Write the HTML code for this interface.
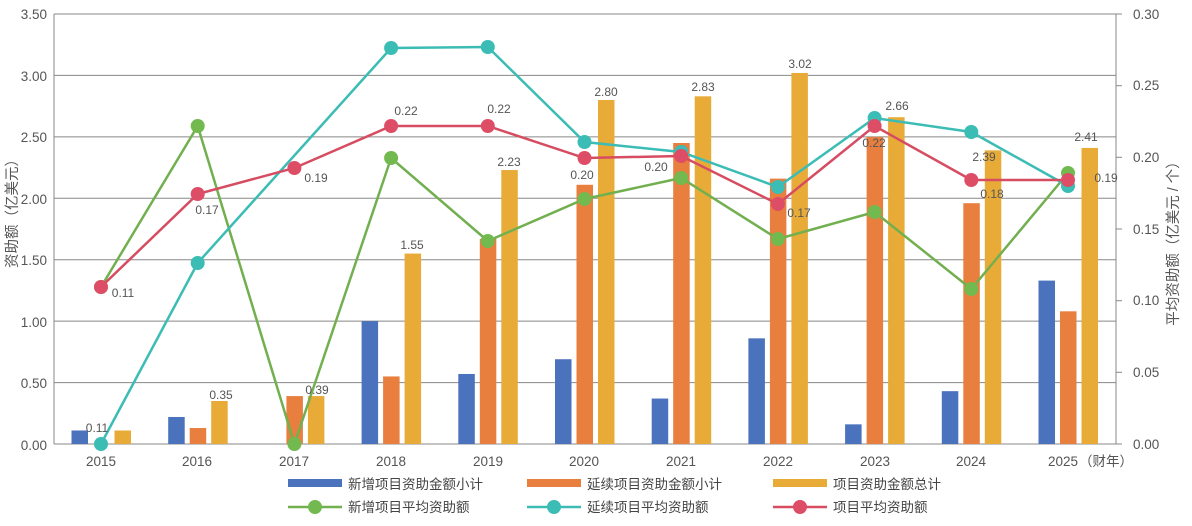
<!DOCTYPE html>
<html><head><meta charset="utf-8"><style>
html,body{margin:0;padding:0;background:#fff;}
svg{display:block;font-family:"Liberation Sans","Noto Sans CJK SC",sans-serif;}
.t{font-size:13.5px;fill:#555;}
.l{font-size:12px;fill:#555;text-anchor:middle;}
.lg{font-size:13.5px;fill:#444;}
</style></head><body>
<svg id="s" width="1192" height="526" viewBox="0 0 1192 526">
<g id="grid" stroke="#888" stroke-width="1"></g>
<line x1="54" y1="14" x2="54" y2="444" stroke="#888"/>
<line x1="1116" y1="14" x2="1116" y2="444" stroke="#888"/>
<g id="bars"></g>
<g id="lines"></g>
<g class="t" text-anchor="end">
<text x="47" y="19">3.50</text><text x="47" y="81">3.00</text><text x="47" y="142">2.50</text><text x="47" y="204">2.00</text><text x="47" y="265">1.50</text><text x="47" y="327">1.00</text><text x="47" y="388">0.50</text><text x="47" y="450">0.00</text>
</g>
<g class="t">
<text x="1133" y="19">0.30</text><text x="1133" y="90">0.25</text><text x="1133" y="162">0.20</text><text x="1133" y="234">0.15</text><text x="1133" y="305">0.10</text><text x="1133" y="377">0.05</text><text x="1133" y="449">0.00</text>
</g>
<g class="t" text-anchor="middle">
<text x="101" y="466">2015</text><text x="197" y="466">2016</text><text x="294" y="466">2017</text><text x="391" y="466">2018</text><text x="488" y="466">2019</text><text x="584" y="466">2020</text><text x="681" y="466">2021</text><text x="778" y="466">2022</text><text x="875" y="466">2023</text><text x="971" y="466">2024</text><text x="1063" y="466">2025</text>
</g>
<text class="t" x="1079" y="466">（财年）</text>
<text class="t" style="font-size:14.5px" transform="translate(17,210) rotate(-90)" text-anchor="middle">资助额（亿美元）</text>
<text class="t" style="font-size:14.5px" transform="translate(1178,240) rotate(-90)" text-anchor="middle">平均资助额（亿美元 / 个）</text>
<g class="l">
<text x="97" y="432">0.11</text><text x="221" y="399">0.35</text><text x="317" y="394">0.39</text><text x="412" y="249">1.55</text><text x="509" y="166">2.23</text><text x="606" y="96">2.80</text><text x="703" y="91">2.83</text><text x="800" y="68">3.02</text><text x="897" y="110">2.66</text><text x="984" y="161">2.39</text><text x="1086" y="141">2.41</text>
<text x="123" y="297">0.11</text><text x="207" y="214">0.17</text><text x="316" y="182">0.19</text><text x="406" y="115">0.22</text><text x="499" y="113">0.22</text><text x="582" y="179">0.20</text><text x="656" y="171">0.20</text><text x="799" y="217">0.17</text><text x="874" y="147">0.22</text><text x="992" y="198">0.18</text><text x="1106" y="182">0.19</text>
</g>
<rect x="288" y="479" width="54" height="8" fill="#4a72bd"/>
<text class="lg" x="348" y="489">新增项目资助金额小计</text>
<rect x="527" y="479" width="54" height="8" fill="#e87f3f"/>
<text class="lg" x="587" y="489">延续项目资助金额小计</text>
<rect x="773" y="479" width="54" height="8" fill="#e9ab38"/>
<text class="lg" x="833" y="489">项目资助金额总计</text>
<line x1="288" y1="507" x2="342" y2="507" stroke="#72b04f" stroke-width="2.5"/><circle cx="315" cy="507" r="7" fill="#72b94f"/>
<text class="lg" x="348" y="512">新增项目平均资助额</text>
<line x1="527" y1="507" x2="581" y2="507" stroke="#3bbcb5" stroke-width="2.5"/><circle cx="554" cy="507" r="7" fill="#3bbcb5"/>
<text class="lg" x="587" y="512">延续项目平均资助额</text>
<line x1="773" y1="507" x2="827" y2="507" stroke="#d64d62" stroke-width="2.5"/><circle cx="800" cy="507" r="7" fill="#de4d66"/>
<text class="lg" x="833" y="512">项目平均资助额</text>
</svg>
<script>
var NS="http://www.w3.org/2000/svg";
function el(p,n,a){var e=document.createElementNS(NS,n);for(var k in a)e.setAttribute(k,a[k]);p.appendChild(e);return e;}
var g=document.getElementById('grid');
[14,75.4,136.9,198.3,259.7,321.1,382.6,444].forEach(function(y){el(g,'line',{x1:54,x2:1116,y1:y,y2:y});});
[14,85.7,157.3,229,300.7,372.3,444].forEach(function(y){el(g,'line',{x1:1116,x2:1122,y1:y,y2:y});});
var c=[];for(var i=0;i<11;i++)c.push(101+96.7*i);
var L=function(v){return 444-v*430/3.5;};
var blue=[0.11,0.22,0,1.00,0.57,0.69,0.37,0.86,0.16,0.43,1.33];
var ora=[0,0.13,0.39,0.55,1.67,2.11,2.45,2.16,2.50,1.96,1.08];
var gold=[0.11,0.35,0.39,1.55,2.23,2.80,2.83,3.02,2.66,2.39,2.41];
var b=document.getElementById('bars');
for(i=0;i<11;i++){
 [[blue,-29.5,'#4a72bd'],[ora,-8,'#e87f3f'],[gold,13.5,'#e9ab38']].forEach(function(s){var v=s[0][i];if(v>0)el(b,'rect',{x:c[i]+s[1],y:L(v),width:16.5,height:444-L(v),fill:s[2]});});
}
var ln=document.getElementById('lines');
var green=[287,126,444,158,241,199,178,239,212,289,173];
var teal=[444,263,null,48,47,142,152,187,118,132,186];
var red=[287,194,168,126,126,158,156,204,126,180,180];
[[green,'#72b04f','#72b94f'],[teal,'#3bbcb5','#3bbcb5'],[red,'#d64d62','#de4d66']].forEach(function(s){
 var pts=[];s[0].forEach(function(y,j){if(y!==null)pts.push(c[j]+','+y);});
 el(ln,'polyline',{points:pts.join(' '),fill:'none',stroke:s[1],'stroke-width':2.5});
 s[0].forEach(function(y,j){if(y!==null)el(ln,'circle',{cx:c[j],cy:y,r:7,fill:s[2]});});
});
</script>
</body></html>
